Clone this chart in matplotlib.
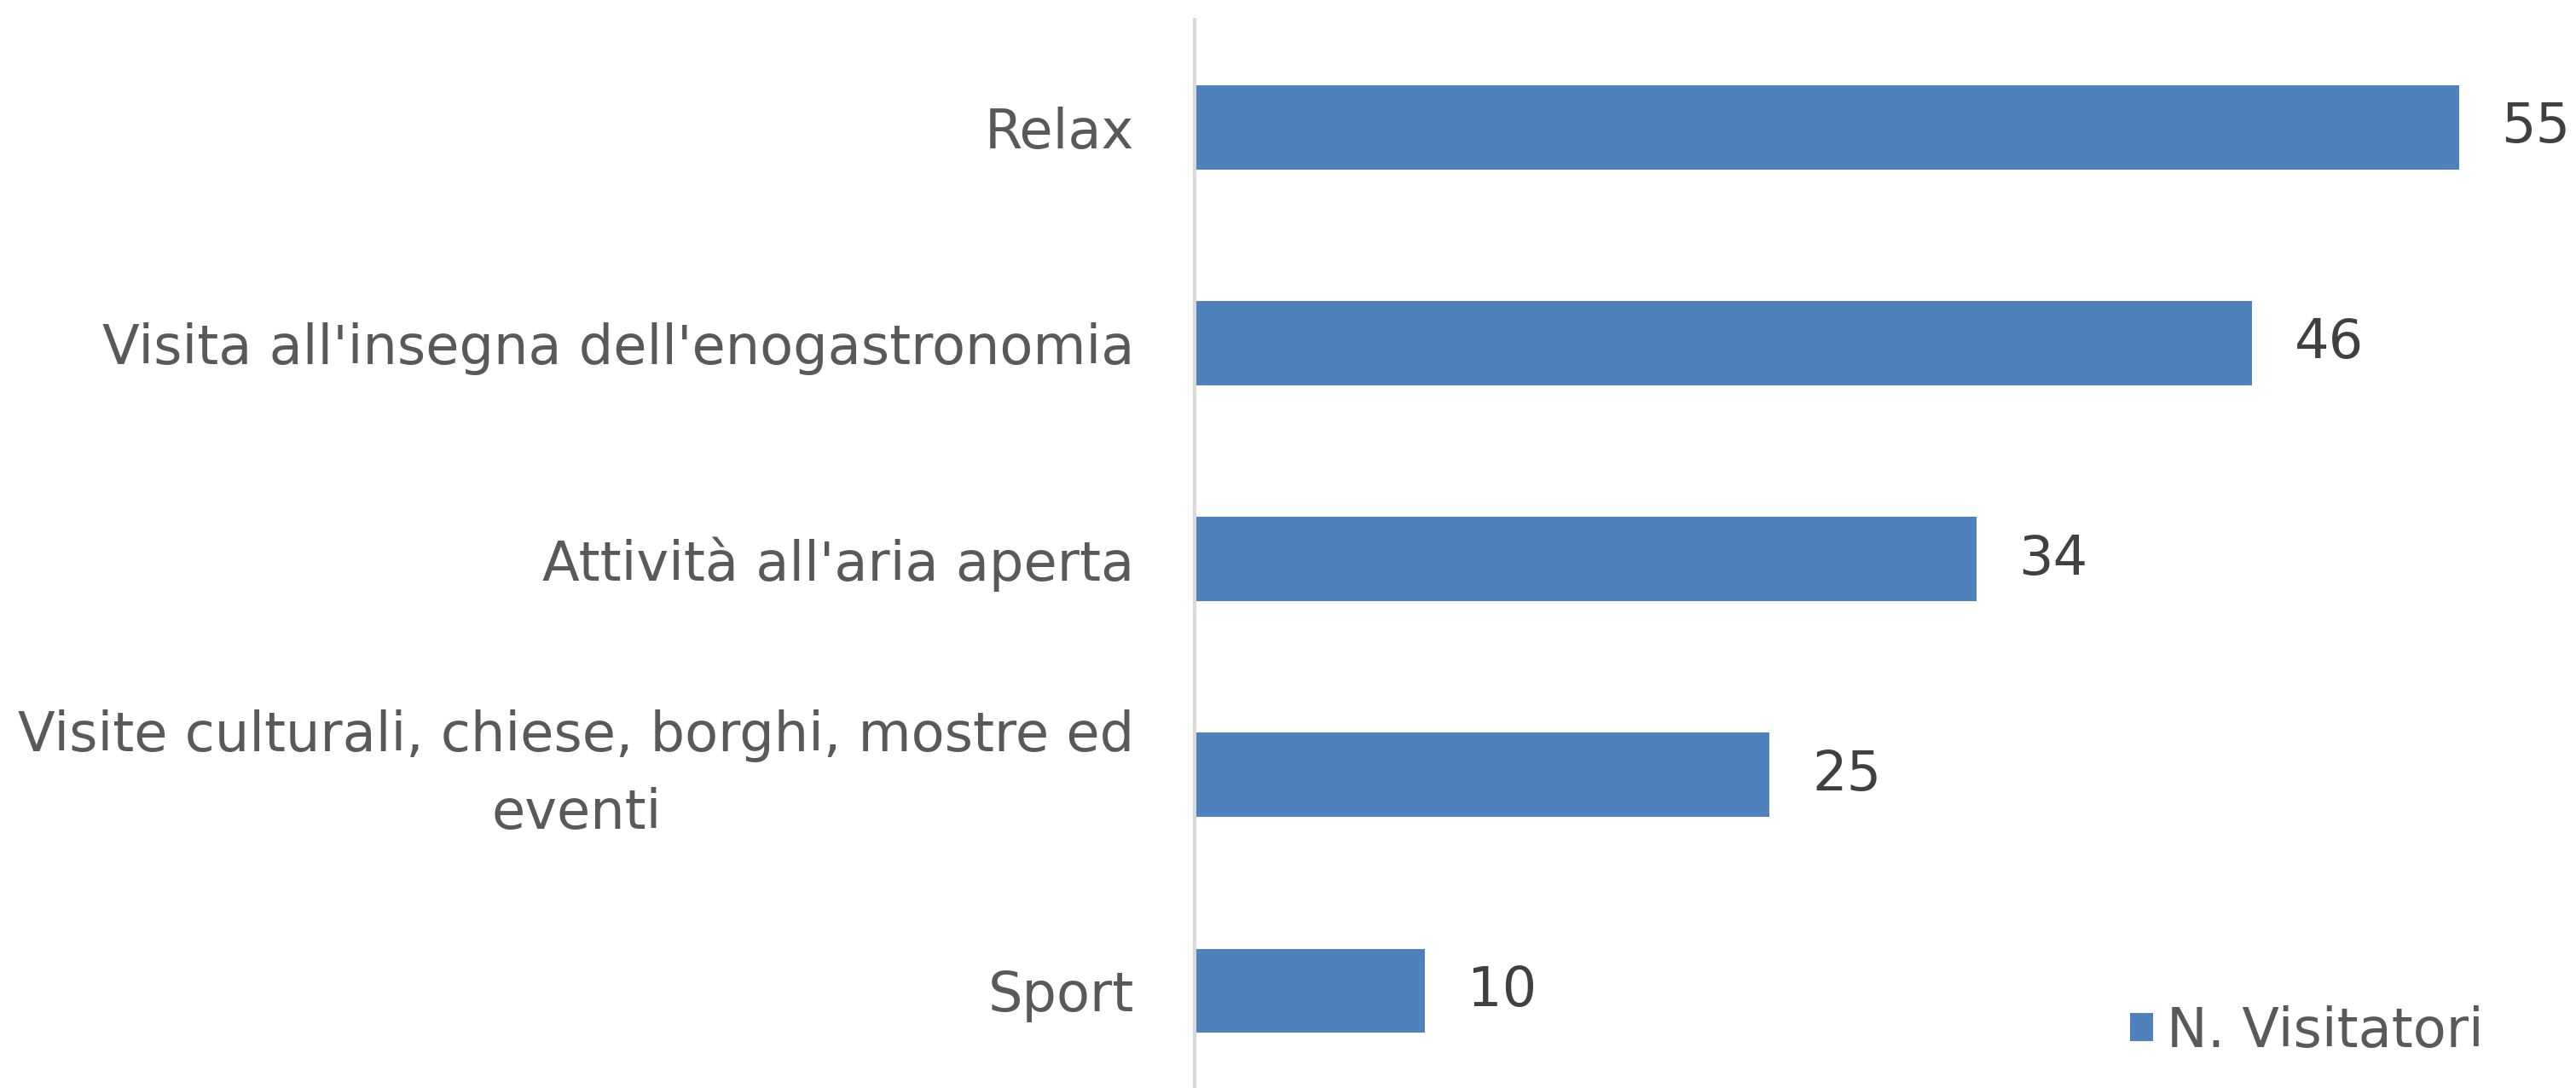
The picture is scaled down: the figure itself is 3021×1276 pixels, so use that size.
import matplotlib
matplotlib.use('Agg')
import matplotlib.pyplot as plt

# chart data (top to bottom)
categories = [
    'Relax',
    "Visita all'insegna dell'enogastronomia",
    "Attività all'aria aperta",
    'Visite culturali, chiese, borghi, mostre ed\neventi',
    'Sport',
]
visitors = [55, 46, 34, 25, 10]
series_name = 'N. Visitatori'

BAR_COLOR = '#4f81bd'
TEXT_COLOR = '#595959'
AXIS_COLOR = '#d9d9d9'
FS = 46

plt.rcParams['font.family'] = ['DejaVu Sans']

fig = plt.figure(figsize=(30.21, 12.76), dpi=100)
ax = fig.add_axes([0.4638, -0.0098, 0.5362, 0.992])

pos = list(range(len(categories)))
bars = ax.barh(pos, visitors, height=0.39, color=BAR_COLOR, label=series_name)

ax.set_xlim(0, 60.1)
ax.set_ylim(len(categories) - 0.5, -0.5)

ax.set_yticks(pos)
ax.set_yticklabels(categories, fontsize=FS, color=TEXT_COLOR,
                   multialignment='center', linespacing=1.6)
# two-line label sits centred on its bar
for lab in ax.get_yticklabels():
    if '\n' in lab.get_text():
        lab.set_va('center')
ax.tick_params(axis='y', length=0, pad=51)
ax.set_xticks([])

for side in ('top', 'right', 'bottom'):
    ax.spines[side].set_visible(False)
ax.spines['left'].set_color(AXIS_COLOR)
ax.spines['left'].set_linewidth(3)

for rect, v in zip(bars, visitors):
    ax.annotate(str(v), xy=(rect.get_width(), rect.get_y() + rect.get_height() / 2),
                xytext=(50, 0), textcoords='offset pixels',
                ha='left', va='center', fontsize=FS, color='#404040',
                annotation_clip=False)

ax.legend(loc='center left', bbox_to_anchor=(0.827, 0.052),
          bbox_transform=fig.transFigure, frameon=False, fontsize=FS,
          labelcolor=TEXT_COLOR, handlelength=0.42, handleheight=0.42,
          handletextpad=0.25, borderpad=0, borderaxespad=0)

fig.savefig('out.png', dpi=100)
